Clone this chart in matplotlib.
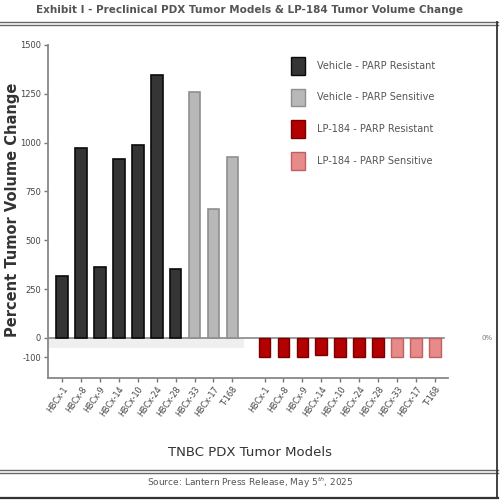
import matplotlib
matplotlib.use("Agg")
import matplotlib.pyplot as plt
from matplotlib.patches import Patch, Rectangle
from matplotlib.lines import Line2D
import numpy as np

models = ["HBCx-1", "HBCx-8", "HBCx-9", "HBCx-14", "HBCx-10", "HBCx-24",
          "HBCx-28", "HBCx-33", "HBCx-17", "T-168"]
vehicle_values = [317, 971, 362, 916, 988, 1347, 352, 1261, 659, 928]
lp184_values = [-100, -100, -100, -88, -100, -100, -100, -100, -100, -100]
resistant = [True] * 7 + [False] * 3
y_ticks = [-100, 0, 250, 500, 750, 1000, 1250, 1500]
legend_labels = ["Vehicle - PARP Resistant", "Vehicle - PARP Sensitive",
                 "LP-184 - PARP Resistant", "LP-184 - PARP Sensitive"]

c_veh_res, c_veh_sen = "#353535", "#b8b8b8"
c_lp_res, c_lp_sen = "#b30000", "#e68a8a"
e_veh_res, e_veh_sen = "#0a0a0a", "#8f8f8f"
e_lp_res, e_lp_sen = "#7a0000", "#c06060"

fig = plt.figure(figsize=(5, 5), dpi=100)
ax = fig.add_axes([0.096, 0.244, 0.80, 0.666])

x1 = np.arange(len(models))
x2 = x1 + 10.7

ax.add_patch(Rectangle((-0.7, -50), 10.3, 50, color="#efefef", zorder=0, lw=0))
ax.axhline(0, color="#888888", lw=1.2, zorder=1, xmin=0, xmax=0.99)

cols1 = [c_veh_res if r else c_veh_sen for r in resistant]
eds1 = [e_veh_res if r else e_veh_sen for r in resistant]
cols2 = [c_lp_res if r else c_lp_sen for r in resistant]
eds2 = [e_lp_res if r else e_lp_sen for r in resistant]
ax.bar(x1, vehicle_values, width=0.62, color=cols1, edgecolor=eds1, linewidth=1.2, zorder=2)
ax.bar(x2, lp184_values, width=0.62, color=cols2, edgecolor=eds2, linewidth=1.0, zorder=2)

ax.set_xlim(-0.74, 20.39)
ax.set_ylim(-205, 1500)
ax.set_yticks(y_ticks)
ax.set_yticklabels([str(t) for t in y_ticks], fontsize=6, color="#444444")
ax.set_xticks(np.concatenate([x1, x2]))
ax.set_xticklabels(models + models, rotation=55, ha="right", rotation_mode="anchor",
                   fontsize=5.8, color="#444444")
ax.tick_params(axis="both", length=3, width=1, color="#777777", pad=2)
for s in ["top", "right"]:
    ax.spines[s].set_visible(False)
for s in ["left", "bottom"]:
    ax.spines[s].set_color("#888888")
    ax.spines[s].set_linewidth(1.3)

handles = [Patch(facecolor=c_veh_res, edgecolor=e_veh_res),
           Patch(facecolor=c_veh_sen, edgecolor=e_veh_sen),
           Patch(facecolor=c_lp_res, edgecolor=e_lp_res),
           Patch(facecolor=c_lp_sen, edgecolor=e_lp_sen)]
leg = ax.legend(handles, legend_labels, loc="upper left", bbox_to_anchor=(0.585, 0.99),
                frameon=False, fontsize=7, handlelength=1.5, handleheight=2.4,
                labelspacing=1.45, handletextpad=1.2, labelcolor="#555555")

fig.text(0.5, 0.98, "Exhibit I - Preclinical PDX Tumor Models & LP-184 Tumor Volume Change",
         ha="center", va="center", fontsize=7.5, fontweight="bold", color="#555555")
fig.text(0.025, 0.58, "Percent Tumor Volume Change", rotation=90, ha="center", va="center",
         fontsize=10.5, fontweight="bold", color="#333333")
fig.text(0.5, 0.096, "TNBC PDX Tumor Models", ha="center", va="center",
         fontsize=9.5, color="#333333")
fig.text(0.5, 0.034, "Source: Lantern Press Release, May 5$^{th}$, 2025", ha="center",
         va="center", fontsize=6.5, color="#555555")
fig.text(0.985, 0.323, "0%", ha="right", va="center", fontsize=5, color="#777777")

for y, lw in [(1 - 22 / 500, 1.0), (1 - 25 / 500, 1.0), (1 - 470 / 500, 1.0), (1 - 473 / 500, 1.0)]:
    fig.add_artist(Line2D([0, 0.995], [y, y], color="#666666", lw=lw))
fig.add_artist(Line2D([0, 0.995], [0.005, 0.005], color="#333333", lw=1.6))
fig.add_artist(Line2D([0.994, 0.994], [0.005, 1 - 22 / 500], color="#333333", lw=1.3))

fig.savefig("out.png", dpi=100)
